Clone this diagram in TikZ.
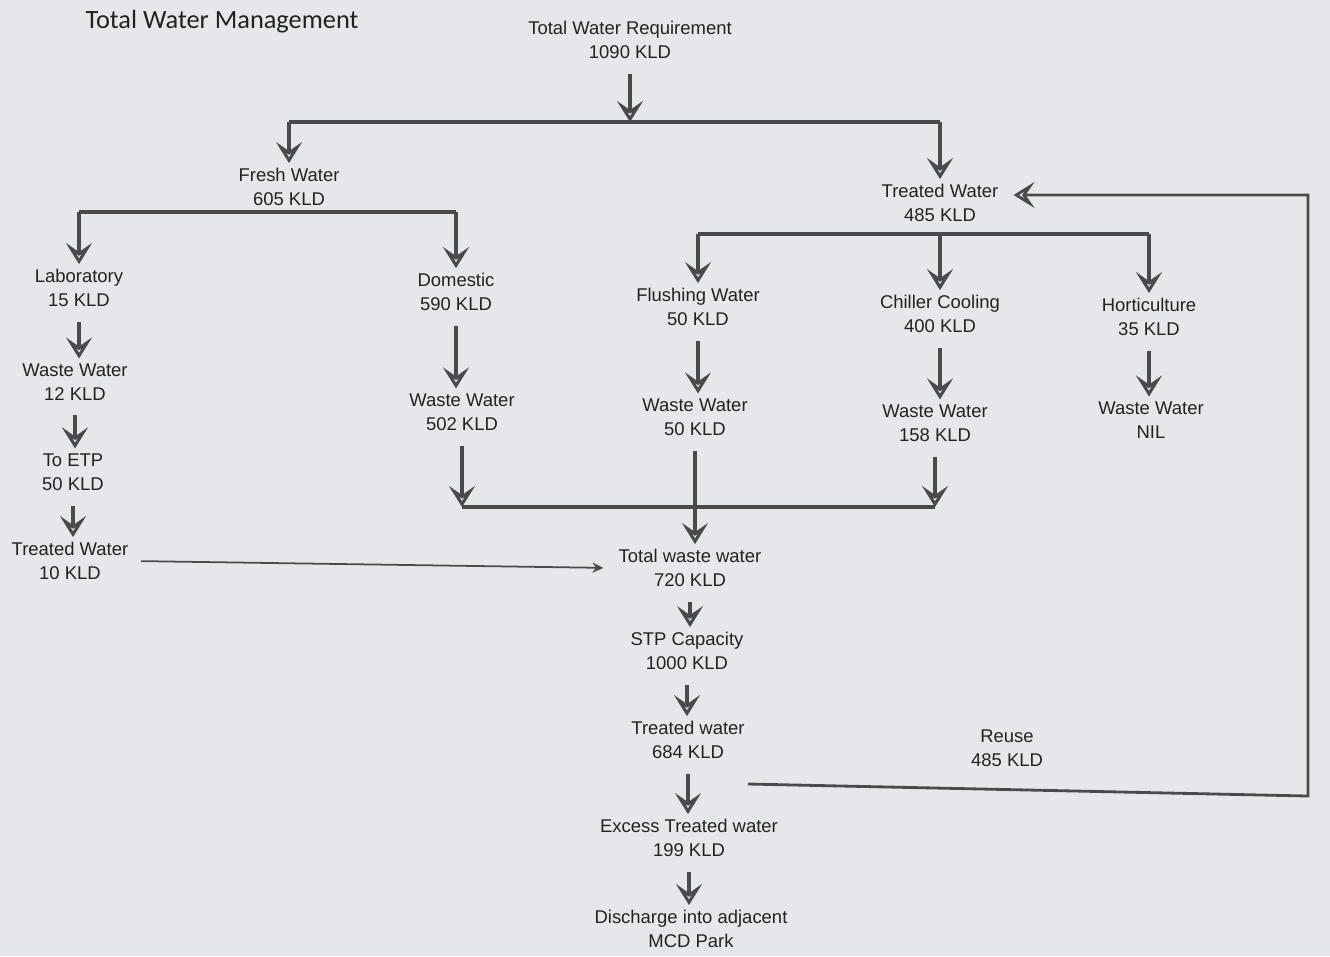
\documentclass[tikz,border=0pt]{standalone}
\usepackage{fontspec}
\setmainfont{Liberation Sans}
\newfontfamily\titlefont{Carlito}
\usetikzlibrary{arrows.meta, positioning, calc}
\definecolor{cpaper}{HTML}{E6E7EA}
\definecolor{cink}{HTML}{222222}
\definecolor{cline}{HTML}{4A4A4A}
\tikzset{
  every picture/.style={line width=2pt},
  lbl/.style={align=center, text=cink, inner sep=2pt, font=\fontsize{10.5}{13.5}\selectfont},
  bar/.style={draw=cline, line width=2pt},
  flow/.style={-{Stealth[open, length=4.2mm, width=5.2mm, inset=1.8mm]}, draw=cline, line width=2pt},
  down/.style={flow, shorten <=2mm},
  feed/.style={-{Stealth[length=2.2mm, width=2mm]}, draw=cline, line width=1pt},
  title/.style={font=\titlefont\fontsize{15}{18}\selectfont, text=cink},
}

\begin{document}
\begin{tikzpicture}[x=0.2mm, y=-0.2mm]
  \fill[cpaper] (0,0) rectangle (1330,956);
  \useasboundingbox (0,0) rectangle (1330,956);
  \node[title] (head) at (222,22) {Total Water Management};
  \node[lbl] (req) at (630,40) {Total Water Requirement\\1090 KLD};
  \node[lbl] (fresh) at (289,187) {Fresh Water\\605 KLD};
  \node[lbl] (treated) at (940,203) {Treated Water\\485 KLD};
  \node[lbl] (lab) at (79,288) {Laboratory\\15 KLD};
  \node[lbl] (dom) at (456,292) {Domestic\\590 KLD};
  \node[lbl] (flush) at (698,307) {Flushing Water\\50 KLD};
  \node[lbl] (chill) at (940,314) {Chiller Cooling\\400 KLD};
  \node[lbl] (hort) at (1149,317) {Horticulture\\35 KLD};
  \node[lbl] (labww) at (75,382) {Waste Water\\12 KLD};
  \node[lbl] (etp) at (73,472) {To ETP\\50 KLD};
  \node[lbl] (labtw) at (70,561) {Treated Water\\10 KLD};
  \node[lbl] (domww) at (462,412) {Waste Water\\502 KLD};
  \node[lbl] (flushww) at (695,417) {Waste Water\\50 KLD};
  \node[lbl] (chillww) at (935,423) {Waste Water\\158 KLD};
  \node[lbl] (hortww) at (1151,420) {Waste Water\\NIL};
  \node[lbl] (totww) at (690,568) {Total waste water\\720 KLD};
  \node[lbl] (stp) at (687,651) {STP Capacity\\1000 KLD};
  \node[lbl] (tw) at (688,740) {Treated water\\684 KLD};
  \node[lbl] (excess) at (689,838) {Excess Treated water\\199 KLD};
  \node[lbl] (discharge) at (691,929) {Discharge into adjacent\\MCD Park};
  \node[lbl] (reuse) at (1007,748) {Reuse\\485 KLD};

  \coordinate (split1) at (626,122);
  \coordinate (split2) at (292,212);
  \coordinate (split3) at (940,234);
  \coordinate (merge) at (693,507);
  \coordinate (loopa) at (748,784);
  \coordinate (loopb) at (1308,796);

  \draw[down] (req.south) -- (req.south |- split1);
  \draw[bar] (fresh.north |- split1) -- (treated.north |- split1);
  \draw[flow] (fresh.north |- split1) -- (fresh);
  \draw[flow] (treated.north |- split1) -- (treated);

  \draw[bar] (lab.north |- split2) -- (dom.north |- split2);
  \draw[flow] (lab.north |- split2) -- (lab);
  \draw[flow] (dom.north |- split2) -- (dom);

  \draw[bar] (flush.north |- split3) -- (hort.north |- split3);
  \draw[flow] (flush.north |- split3) -- (flush);
  \draw[flow] (chill.north |- split3) -- (chill);
  \draw[flow] (hort.north |- split3) -- (hort);

  \draw[down] (lab.south) -- (lab.south |- labww.north);
  \draw[down] (labww.south) -- (labww.south |- etp.north);
  \draw[down] (etp.south) -- (etp.south |- labtw.north);
  \draw[down] (dom.south) -- (dom.south |- domww.north);
  \draw[down] (flush.south) -- (flush.south |- flushww.north);
  \draw[down] (chill.south) -- (chill.south |- chillww.north);
  \draw[down] (hort.south) -- (hort.south |- hortww.north);

  \draw[down] (domww.south) -- (domww.south |- merge);
  \draw[down] (chillww.south) -- (chillww.south |- merge);
  \draw[bar] (domww.south |- merge) -- (chillww.south |- merge);
  \draw[down] (flushww.south) -- (flushww.south |- totww.north);
  \draw[feed, shorten <=1.5mm, shorten >=2mm] (labtw.east) -- (totww.west);

  \draw[down] (totww.south) -- (totww.south |- stp.north);
  \draw[down] (stp.south) -- (stp.south |- tw.north);
  \draw[down] (tw.south) -- (tw.south |- excess.north);
  \draw[down] (excess.south) -- (excess.south |- discharge.north);

  \draw[flow, line width=1.6pt, shorten >=2mm] (loopa) -- (loopb) |- ([yshift=1.6mm]treated.east);
\end{tikzpicture}
\end{document}
